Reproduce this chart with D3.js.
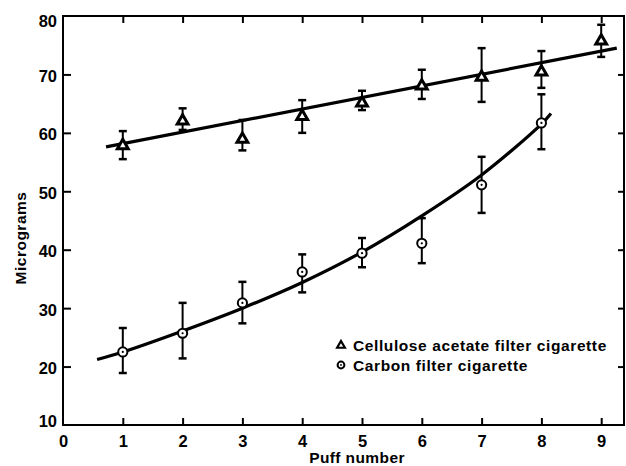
<!DOCTYPE html>
<html><head><meta charset="utf-8">
<script src="https://cdn.jsdelivr.net/npm/d3@7"></script>
<style>body{margin:0;background:#fff}svg{display:block}text{font-family:"Liberation Sans",Arial,sans-serif;font-weight:bold;fill:#000}</style>
</head><body>
<svg id="c" width="626" height="466"></svg>
<script>
const puffs = [1,2,3,4,5,6,7,8,9];
const acetateMean = [58.0,62.2,59.1,63.0,65.3,68.2,69.7,70.6,75.9];
const acetateLow  = [55.5,60.5,57.0,60.0,63.9,65.8,65.3,67.7,73.0];
const acetateHigh = [60.3,64.2,62.2,65.6,67.2,70.8,74.5,74.0,78.5];
const carbonPuffs = [1,2,3,4,5,6,7,8];
const carbonMean = [22.5,25.7,30.9,36.2,39.4,41.1,51.1,61.7];
const carbonLow  = [18.9,21.4,27.4,32.7,37.0,37.7,46.3,57.2];
const carbonHigh = [26.6,30.9,34.5,39.2,42.0,45.4,55.9,66.6];
// fitted lines
const acetateFitX = [0.72,9.26];
const acetateFitY = [57.6,74.5];
const carbonFitX = [0.57,1,2,3,4,5,6,7,8,8.16];
const carbonFitY = [21.2,22.5,26.1,30.0,34.4,39.6,45.8,52.8,61.5,63.3];
const xTicks = [0,1,2,3,4,5,6,7,8,9];
const yTicks = [10,20,30,40,50,60,70,80];
const legendLabels = ["Cellulose acetate filter cigarette","Carbon filter cigarette"];
const xTitle = "Puff number", yTitle = "Micrograms";

const svg = d3.select("#c");
const L=63, R=624, T=16, B=425;
const x = d3.scaleLinear().domain([0, (R-L)/59.8]).range([L,R]);
const y = d3.scaleLinear().domain([10,80]).range([B,T]);

const g = svg.append("g");
g.append("rect").attr("x",L).attr("y",T).attr("width",R-L).attr("height",B-T)
 .attr("fill","none").attr("stroke","#000").attr("stroke-width",2);

const ax = (gen, tr) => { const a = g.append("g").attr("transform",tr).call(gen);
  a.select(".domain").remove(); a.selectAll("line").attr("stroke","#000").attr("stroke-width",2); return a; };
const bx = ax(d3.axisBottom(x).tickValues(xTicks).tickSizeInner(-7).tickSizeOuter(0).tickPadding(10).tickFormat(d3.format("d")), `translate(0,${B})`);
bx.selectAll("line").filter(d=>d===0).remove();
bx.selectAll("text").attr("font-size",16.5).attr("font-family","Liberation Sans").attr("font-weight","bold");
ax(d3.axisTop(x).tickValues(xTicks.filter(d=>d>0)).tickSizeInner(-7).tickSizeOuter(0).tickFormat(""), `translate(0,${T})`);
const ly = ax(d3.axisLeft(y).tickValues(yTicks).tickSizeInner(-8).tickSizeOuter(0).tickPadding(6).tickFormat(d3.format("d")), `translate(${L},0)`);
ly.selectAll("line").filter(d=>d===10||d===80).remove();
ly.selectAll("text").attr("font-size",16.5).attr("font-family","Liberation Sans").attr("font-weight","bold")
  .attr("dy", d => d===80 ? "0.62em" : (d===10 ? "0.1em" : "0.42em"));
ax(d3.axisRight(y).tickValues(yTicks.filter(d=>d>10&&d<80)).tickSizeInner(-6).tickSizeOuter(0).tickFormat(""), `translate(${R},0)`);

// titles
g.append("text").attr("x",357).attr("y",463).attr("text-anchor","middle").attr("font-size",15.5)
 .attr("letter-spacing","0.4px").text(xTitle);
g.append("text").attr("transform","translate(25.5,238) rotate(-90)").attr("text-anchor","middle").attr("font-size",15.5)
 .attr("letter-spacing","0.5px").text(yTitle);

// fit lines
const line = d3.line().x(d=>x(d[0])).y(d=>y(d[1]));
g.append("path").datum(d3.zip(acetateFitX,acetateFitY)).attr("d",line)
 .attr("fill","none").attr("stroke","#000").attr("stroke-width",3.2);
g.append("path").datum(d3.zip(carbonFitX,carbonFitY)).attr("d",line.curve(d3.curveCatmullRom))
 .attr("fill","none").attr("stroke","#000").attr("stroke-width",3.2);

// error bars
function errs(xs, lo, hi){
  const e = g.append("g").attr("stroke","#000").attr("stroke-width",2);
  xs.forEach((p,i)=>{
    e.append("line").attr("x1",x(p)).attr("x2",x(p)).attr("y1",y(lo[i])).attr("y2",y(hi[i]));
    [lo[i],hi[i]].forEach(v=>e.append("line").attr("x1",x(p)-4).attr("x2",x(p)+4).attr("y1",y(v)).attr("y2",y(v)).attr("stroke-width",2.5));
  });
}
errs(puffs, acetateLow, acetateHigh);
errs(carbonPuffs, carbonLow, carbonHigh);

// markers
const tri = d3.symbol().type(d3.symbolTriangle).size(50);
g.append("g").selectAll("path").data(puffs).join("path")
 .attr("transform",(d,i)=>`translate(${x(d)},${y(acetateMean[i])+1})`).attr("d",tri())
 .attr("fill","#fff").attr("stroke","#000").attr("stroke-width",3);
const cg = g.append("g").selectAll("g").data(carbonPuffs).join("g")
 .attr("transform",(d,i)=>`translate(${x(d)},${y(carbonMean[i])})`);
cg.append("circle").attr("r",4.6).attr("fill","#fff").attr("stroke","#000").attr("stroke-width",2);
cg.append("circle").attr("r",1.1).attr("fill","#000");

// legend
const lg = g.append("g").attr("transform","translate(341,345)");
lg.append("path").attr("d",d3.symbol().type(d3.symbolTriangle).size(26)()).attr("transform","translate(0,0.5)")
 .attr("fill","#fff").attr("stroke","#000").attr("stroke-width",2.2);
lg.append("circle").attr("cy",20).attr("r",3.4).attr("fill","#fff").attr("stroke","#000").attr("stroke-width",2);
lg.append("circle").attr("cy",20).attr("r",0.9).attr("fill","#000");
lg.selectAll("text").data(legendLabels).join("text").attr("x",12).attr("y",(d,i)=>5.5+i*20)
 .attr("font-size",15.5).attr("letter-spacing","0.6px").text(d=>d);
</script>
</body></html>
